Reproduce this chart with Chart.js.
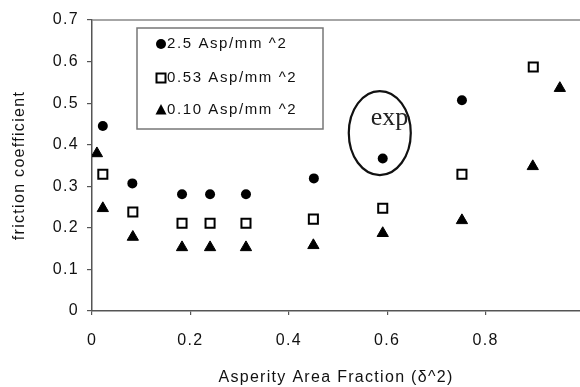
<!DOCTYPE html>
<html>
<head>
<meta charset="utf-8">
<script src="https://cdn.jsdelivr.net/npm/chart.js@4/dist/chart.umd.min.js"></script>
<style>
  body{margin:0;background:#fff;overflow:hidden;}
</style>
</head>
<body>
<canvas id="c" width="580" height="387"></canvas>
<script>
/* data */
let seriesNames = ["2.5 Asp/mm ^2", "0.53 Asp/mm ^2", "0.10 Asp/mm ^2"];

let xHigh = [0.022, 0.082, 0.183, 0.24, 0.313, 0.451, 0.591, 0.752];
let yHigh = [0.445, 0.307, 0.281, 0.281, 0.281, 0.319, 0.367, 0.507];

let xMid = [0.022, 0.083, 0.183, 0.24, 0.313, 0.45, 0.591, 0.752, 0.897];
let yMid = [0.329, 0.238, 0.211, 0.211, 0.211, 0.221, 0.247, 0.329, 0.587];

let xLow = [0.01, 0.022, 0.083, 0.183, 0.24, 0.313, 0.45, 0.591, 0.752, 0.896, 0.951];
let yLow = [0.379, 0.247, 0.178, 0.153, 0.153, 0.153, 0.158, 0.187, 0.218, 0.348, 0.536];

let xTicks = [0, 0.2, 0.4, 0.6, 0.8];
let yTicks = [0, 0.1, 0.2, 0.3, 0.4, 0.5, 0.6, 0.7];

let noteText = "exp";
let notePoint = [0.585, 0.428];

function pts(xs, ys){
    return xs.map((x,i)=>({x:x, y:ys[i]}));
}

/* Letter spacing like the scanned print */
const spacing = {
    id:"spacing",
    beforeDraw(chart){ chart.ctx.letterSpacing = "1.3px"; }
};

/* Top frame line */
const frame = {
    id:"frame",
    beforeDatasetsDraw(chart){
        let ctx = chart.ctx, a = chart.chartArea;
        ctx.save();
        ctx.strokeStyle = "#888";
        ctx.lineWidth = 1.5;
        ctx.beginPath();
        ctx.moveTo(a.left, a.top);
        ctx.lineTo(chart.width, a.top);
        ctx.stroke();
        ctx.restore();
    }
};

function marker(ctx, kind, x, y){
    ctx.save();
    ctx.fillStyle = "#000";
    ctx.strokeStyle = "#000";
    ctx.beginPath();
    if(kind==="circle"){
        ctx.arc(x, y, 5, 0, Math.PI*2);
        ctx.fill();
    }else if(kind==="rect"){
        ctx.lineWidth = 2;
        ctx.fillStyle = "#fff";
        ctx.rect(x-4.5, y-4.5, 9, 9);
        ctx.fill();
        ctx.stroke();
    }else{
        ctx.moveTo(x, y-6);
        ctx.lineTo(x+5.5, y+4.5);
        ctx.lineTo(x-5.5, y+4.5);
        ctx.closePath();
        ctx.fill();
    }
    ctx.restore();
}

/* Legend box inside the plot */
const boxLegend = {
    id:"boxLegend",
    afterDatasetsDraw(chart){
        let ctx = chart.ctx;
        ctx.save();
        ctx.strokeStyle = "#777";
        ctx.lineWidth = 1.5;
        ctx.strokeRect(137, 28, 186, 101);
        ctx.font = "15px 'Liberation Sans', Arial, sans-serif";
        ctx.letterSpacing = "1.6px";
        ctx.fillStyle = "#111";
        ctx.textBaseline = "middle";
        let kinds = ["circle","rect","triangle"];
        let rows = [44, 78, 110];
        seriesNames.forEach((name,i)=>{
            marker(ctx, kinds[i], 161, rows[i]);
            ctx.fillText(name, 167, rows[i]);
        });
        ctx.restore();
    }
};

/* Circled note */
const note = {
    id:"note",
    afterDatasetsDraw(chart){
        let ctx = chart.ctx;
        let cx = chart.scales.x.getPixelForValue(notePoint[0]);
        let cy = chart.scales.y.getPixelForValue(notePoint[1]);
        ctx.save();
        ctx.letterSpacing = "0px";
        ctx.strokeStyle = "#111";
        ctx.lineWidth = 2.2;
        ctx.beginPath();
        ctx.ellipse(cx, cy, 31, 42, 0, 0, Math.PI*2);
        ctx.stroke();
        ctx.fillStyle = "#222";
        ctx.font = "26px 'Liberation Serif', 'Times New Roman', serif";
        ctx.textBaseline = "alphabetic";
        ctx.fillText(noteText, cx-9, cy-8);
        ctx.restore();
    }
};

const axisFont = {family:"'Liberation Sans', Arial, sans-serif", size:16};

new Chart(document.getElementById("c"),{
    type:"scatter",
    data:{
        datasets:[
            {label:seriesNames[0], data:pts(xHigh,yHigh), pointStyle:"circle", radius:5,
             backgroundColor:"#000", borderColor:"#000", borderWidth:0},
            {label:seriesNames[1], data:pts(xMid,yMid), pointStyle:"rect", radius:6.4,
             backgroundColor:"#fff", borderColor:"#000", borderWidth:2},
            {label:seriesNames[2], data:pts(xLow,yLow), pointStyle:"triangle", radius:6.5,
             backgroundColor:"#000", borderColor:"#000", borderWidth:1}
        ]
    },
    options:{
        responsive:false,
        animation:false,
        layout:{autoPadding:false, padding:{left:10, top:20, right:0, bottom:0}},
        plugins:{legend:{display:false}, tooltip:{enabled:false}},
        scales:{
            x:{
                type:"linear", min:0, max:0.992,
                afterBuildTicks(s){ s.ticks = xTicks.map(v=>({value:v})); },
                afterFit(s){ s.height = 76; s.paddingLeft = 0; s.paddingRight = 0; },
                ticks:{color:"#111", font:axisFont, padding:16, maxRotation:0,
                       callback:v=>String(v)},
                grid:{drawOnChartArea:false, tickLength:4, color:"#555", lineWidth:1.2},
                border:{color:"#555", width:1.5},
                title:{display:true, text:"Asperity Area Fraction (\u03b4^2)", color:"#111",
                       font:axisFont, padding:0}
            },
            y:{
                min:0, max:0.7,
                afterBuildTicks(s){ s.ticks = yTicks.map(v=>({value:v})); },
                afterFit(s){ s.width = 82; s.paddingTop = 0; s.paddingBottom = 0; },
                ticks:{color:"#111", font:axisFont, padding:8, callback:v=>String(v)},
                grid:{drawOnChartArea:false, tickLength:5, color:"#555", lineWidth:1.2},
                border:{color:"#555", width:1.5},
                title:{display:true, text:"friction coefficient", color:"#111",
                       font:axisFont, padding:0}
            }
        }
    },
    plugins:[spacing, frame, boxLegend, note]
});
</script>
</body>
</html>
